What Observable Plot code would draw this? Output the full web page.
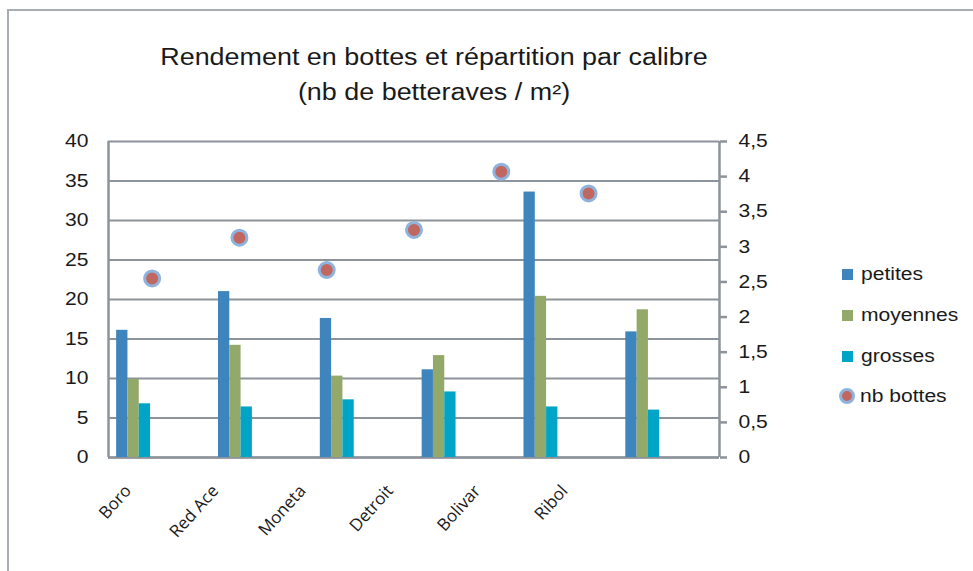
<!DOCTYPE html>
<html>
<head>
<meta charset="utf-8">
<script src="https://cdn.jsdelivr.net/npm/d3@7"></script>
<script src="https://cdn.jsdelivr.net/npm/@observablehq/plot@0.6"></script>
<style>
  body { margin: 0; background: #fff; }
  #wrap { position: relative; width: 973px; height: 571px; overflow: hidden; font-family: "Liberation Sans", Arial, sans-serif; color: #1a1a1a; }
  #frame { position: absolute; left: 7px; top: 9px; width: 1000px; height: 700px; border-left: 2px solid #a8acb3; border-top: 2px solid #a8acb3; }
  #chart { position: absolute; left: 0; top: 0; }
  .title { position: absolute; left: 434px; font-size: 23px; line-height: 1; white-space: nowrap; transform: translateX(-50%) scaleX(1.17); transform-origin: 0 0; }
  #legend { position: absolute; left: 842px; top: 0; font-size: 18px; }
  .li { position: absolute; left: 0; white-space: nowrap; display: flex; align-items: center; height: 24px; }
  .sw { width: 11px; height: 11px; margin-right: 8px; }
  .dotsw { width: 10px; height: 10px; border-radius: 50%; background: #c0675f; border: 3px solid #8fb3dd; margin-left: -3px; margin-right: 5px; }
  .lt { display: inline-block; transform: scaleX(1.17); transform-origin: 0 50%; }
</style>
</head>
<body>
<div id="wrap">
  <div id="frame"></div>
  <div id="chart"></div>
  <div class="title" id="t1" style="top:46px">Rendement en bottes et répartition par calibre</div>
  <div class="title" id="t2" style="top:81px">(nb de betteraves / m²)</div>
  <div id="legend"></div>
</div>
<script>
const categories = ["Boro", "Red Ace", "Moneta", "Detroit", "Bolivar", "Ribol"];
const petites  = [16.1, 21.0, 17.6, 11.1, 33.6, 15.9];
const moyennes = [9.9, 14.2, 10.3, 12.9, 20.4, 18.7];
const grosses  = [6.8, 6.4, 7.3, 8.3, 6.4, 6.0];
const nbBottes = [2.55, 3.13, 2.67, 3.24, 4.07, 3.76];
const seriesNames = ["petites", "moyennes", "grosses"];
const seriesColors = ["#3d85bc", "#93a96a", "#00a4c7"];
const leftTicks = [0, 5, 10, 15, 20, 25, 30, 35, 40];
const rightTicks = [0, 0.5, 1, 1.5, 2, 2.5, 3, 3.5, 4, 4.5];

const leftMax = 40, rightMax = 4.5;
const stretch = 1.17;
const toLeft = v => v * leftMax / rightMax;
const fmtRight = d => String(Math.round(d * rightMax / leftMax * 10) / 10).replace(".", ",");

const seriesValues = [petites, moyennes, grosses];
const barOffset = 0.08, barW = 0.111;
const bars = [];
seriesValues.forEach((vals, s) => vals.forEach((v, i) => bars.push({
  series: seriesNames[s], x1: i + barOffset + s * barW, x2: i + barOffset + (s + 1) * barW, value: v
})));
const nCat = categories.length;
const dotX = i => (i + 0.5) * nCat / (nCat + 1);
const dots = nbBottes.map((v, i) => ({x: dotX(i), y: toLeft(v)}));
const labels = categories.map((c, i) => ({x: dotX(i), y: 0, text: c}));

const gray = "#8c939a";
const chart = Plot.plot({
  width: 973, height: 571,
  marginLeft: 108, marginRight: 254, marginTop: 141, marginBottom: 114,
  x: {domain: [0, nCat], axis: null},
  y: {domain: [0, leftMax], axis: null},
  color: {domain: seriesNames, range: seriesColors},
  style: {fontFamily: "'Liberation Sans', Arial, sans-serif", background: "transparent", color: "#1a1a1a", overflow: "visible"},
  marks: [
    Plot.gridY(leftTicks, {stroke: gray, strokeOpacity: 1, strokeWidth: 2}),
    Plot.ruleX([0, nCat], {stroke: gray, strokeWidth: 2.5}),
    Plot.ruleY([0], {stroke: gray, strokeWidth: 2.5}),
    Plot.rect(bars, {x1: "x1", x2: "x2", y1: 0, y2: "value", fill: "series"}),
    Plot.dot(dots, {x: "x", y: "y", r: 7.5, fill: "#c0675f", stroke: "#8fb3dd", strokeWidth: 3}),
    Plot.axisY(leftTicks, {anchor: "left", tickSize: 0, tickPadding: 20, fontSize: 18, tickFormat: d => String(d)}),
    Plot.axisY(rightTicks.map(toLeft), {anchor: "right", tickSize: 7, tickPadding: 12, fontSize: 18, stroke: gray, strokeWidth: 2.5, strokeOpacity: 1, tickFormat: fmtRight}),
    Plot.text(labels, {x: "x", y: "y", text: "text", rotate: -48, textAnchor: "end", lineAnchor: "bottom", dx: -20, dy: 34, fontSize: 17, fontFamily: "'Open Sans', sans-serif", fill: "#1a1a1a"})
  ]
});
document.getElementById("chart").appendChild(chart);

// widen the axis tick labels horizontally, as in the reference rendering
d3.select(chart).selectAll("g[aria-label='y-axis tick label'] text").each(function() {
  const w = this.getComputedTextLength();
  this.setAttribute("textLength", w * stretch);
  this.setAttribute("lengthAdjust", "spacingAndGlyphs");
});

const legend = document.getElementById("legend");
const legendTops = [262, 303, 344, 384];
seriesNames.forEach((n, s) => {
  const d = document.createElement("div");
  d.className = "li"; d.style.top = legendTops[s] + "px";
  d.innerHTML = `<span class="sw" style="background:${seriesColors[s]}"></span><span class="lt">${n}</span>`;
  legend.appendChild(d);
});
const dl = document.createElement("div");
dl.className = "li"; dl.style.top = legendTops[3] + "px";
dl.innerHTML = `<span class="dotsw"></span><span class="lt">nb bottes</span>`;
legend.appendChild(dl);

// center the stretched titles on x = 434
for (const id of ["t1", "t2"]) {
  const el = document.getElementById(id);
  const w = el.getBoundingClientRect().width / stretch;
  el.style.transform = `translateX(${-w * stretch / 2}px) scaleX(${stretch})`;
}
</script>
</body>
</html>
